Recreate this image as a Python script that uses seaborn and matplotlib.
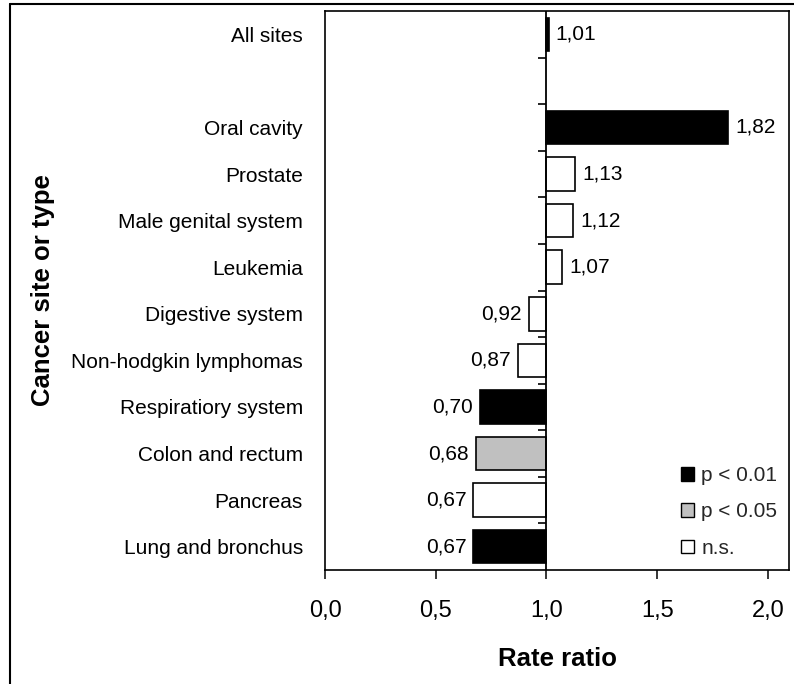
import matplotlib
matplotlib.use("Agg")
import matplotlib.pyplot as plt
from matplotlib.patches import Patch
from matplotlib.lines import Line2D
from matplotlib.font_manager import fontManager
import seaborn as sns
import pandas as pd
import numpy as np

# ---- data ----
categories = ["All sites", " ", "Oral cavity", "Prostate", "Male genital system",
              "Leukemia", "Digestive system", "Non-hodgkin lymphomas",
              "Respiratiory system", "Colon and rectum", "Pancreas", "Lung and bronchus"]
rate_ratios = [1.01, None, 1.82, 1.13, 1.12, 1.07, 0.92, 0.87, 0.70, 0.68, 0.67, 0.67]
significance = ["p < 0.01", None, "p < 0.01", "n.s.", "n.s.", "n.s.", "n.s.", "n.s.",
                "p < 0.01", "p < 0.05", "n.s.", "p < 0.01"]
sig_levels = ["p < 0.01", "p < 0.05", "n.s."]
sig_colors = ["#000000", "#c0c0c0", "#ffffff"]
x_ticks = [0.0, 0.5, 1.0, 1.5, 2.0]
baseline = 1.0

sns.set_theme(style="white")
plt.rcParams["font.family"] = ["Liberation Sans", "DejaVu Sans"]
names = {f.name for f in fontManager.ttflist}
narrow = "Liberation Sans Narrow" if "Liberation Sans Narrow" in names else "Liberation Sans"
cat_size = 17 if narrow == "Liberation Sans Narrow" else 15

df = pd.DataFrame({"site": categories, "rr": rate_ratios, "sig": significance}).dropna()

fig = plt.figure(figsize=(7.94, 6.84), dpi=100)
ax = fig.add_axes([325 / 794, 1 - 570 / 684, (789 - 325) / 794, (570 - 11) / 684])

sns.barplot(data=df, x="rr", y="site", hue="sig", hue_order=sig_levels,
            palette=sig_colors, order=categories, orient="h", dodge=False,
            width=0.72, edgecolor="black", linewidth=1.2, legend=False,
            saturation=1, ax=ax)

# bars start at the baseline ratio of 1
for p in ax.patches:
    w = p.get_width()
    if np.isfinite(w) and w != 0:
        p.set_x(baseline)
        p.set_width(w - baseline)

ax.axvline(baseline, color="black", lw=1.3, zorder=3)
bounds = np.arange(len(categories) - 1) + 0.5
ax.hlines(bounds, baseline - 0.04, baseline, color="black", lw=1.2, zorder=3)

# value labels
for _, row in df.iterrows():
    pos = categories.index(row["site"])
    v = row["rr"]
    txt = f"{v:.2f}".replace(".", ",")
    right = v >= baseline
    ax.annotate(txt, xy=(v, pos), xytext=(5 if right else -5, 0),
                textcoords="offset points", ha="left" if right else "right",
                va="center", fontsize=15, color="black")

ax.set_xlim(0, 2.095)
ax.set_ylim(len(categories) - 0.5, -0.5)
ax.set_xticks(x_ticks)
ax.set_xticklabels([f"{t:.1f}".replace(".", ",") for t in x_ticks], fontsize=17)
ax.tick_params(axis="x", bottom=True, length=6.5, width=1.1, direction="out",
               pad=15, colors="black")
ax.tick_params(axis="y", left=False, length=0, pad=16)
for lab in ax.get_yticklabels():
    lab.set_fontfamily(narrow)
    lab.set_fontsize(cat_size)
    lab.set_color("black")

for s in ax.spines.values():
    s.set_visible(True)
    s.set_color("black")
    s.set_linewidth(1.2)

ax.set_xlabel("Rate ratio", fontsize=18.5, fontweight="bold", color="black", va="center")
ax.xaxis.set_label_coords(0.5, -0.16)
ax.set_ylabel("Cancer site or type", fontsize=18.5, fontweight="bold", color="black", va="center")
ax.yaxis.set_label_coords(-0.608, 0.5)

handles = [Patch(facecolor=c, edgecolor="black", linewidth=1.0, label=l)
           for l, c in zip(sig_levels, sig_colors)]
ax.legend(handles=handles, loc="lower right", bbox_to_anchor=(0.975, 0.022),
          frameon=False, fontsize=15, handlelength=0.62, handleheight=0.62,
          handletextpad=0.35, labelspacing=0.83, borderaxespad=0, borderpad=0)

# outer frame (left and top edges visible)
fig.add_artist(Line2D([10 / 794, 10 / 794], [0, 1 - 4 / 684], transform=fig.transFigure,
                      color="black", lw=1.5))
fig.add_artist(Line2D([10 / 794, 1], [1 - 4 / 684, 1 - 4 / 684], transform=fig.transFigure,
                      color="black", lw=1.5))

fig.savefig("out.png", dpi=100)
